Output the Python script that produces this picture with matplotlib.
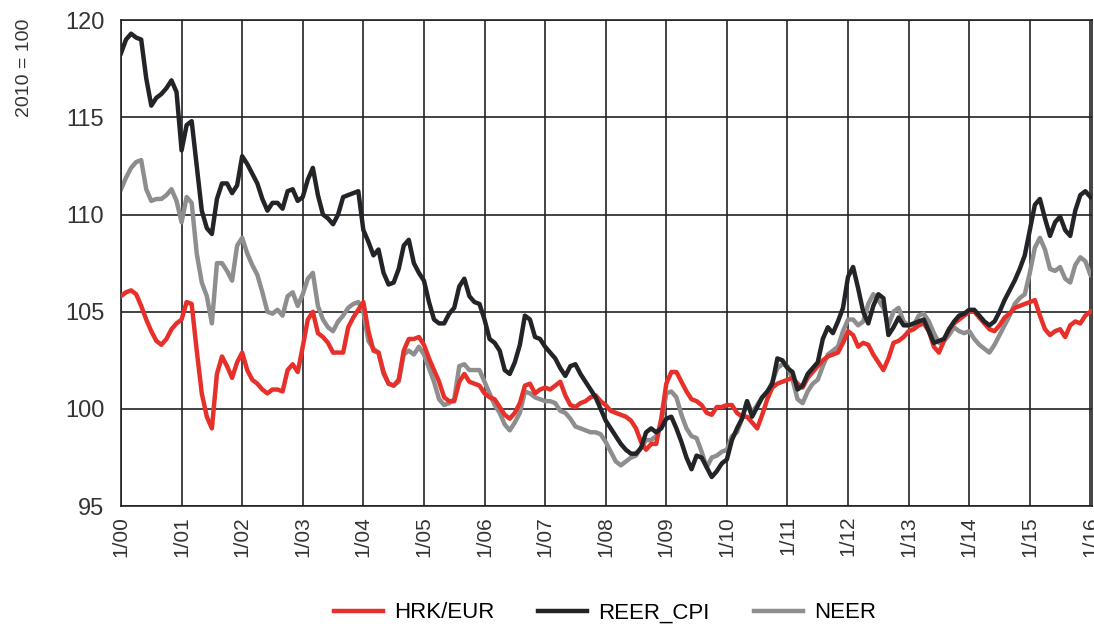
import matplotlib
matplotlib.use("Agg")
import matplotlib.pyplot as plt
import numpy as np

plt.rcParams['font.family'] = ['Liberation Sans Narrow', 'Liberation Sans', 'DejaVu Sans']

# monthly index values, 1/2000 .. 1/2016 (2010 = 100)
hrk_eur = [
    105.8, 106.0, 106.1, 105.9, 105.3, 104.6, 104.0, 103.5, 103.3, 103.6, 104.1, 104.4,
    104.6, 105.5, 105.4, 103.0, 100.8, 99.6, 99.0, 101.8, 102.7, 102.2, 101.6, 102.4,
    102.9, 102.0, 101.5, 101.3, 101.0, 100.8, 101.0, 101.0, 100.9, 102.0, 102.3, 101.9,
    103.2, 104.6, 105.0, 103.9, 103.7, 103.4, 102.9, 102.9, 102.9, 104.2, 104.7, 105.1,
    105.5, 104.0, 103.0, 102.9, 101.9, 101.3, 101.2, 101.5, 103.0, 103.6, 103.6, 103.7,
    103.3, 102.6, 102.0, 101.4, 100.6, 100.4, 100.4, 101.4, 101.8, 101.4, 101.3, 101.2,
    100.8, 100.6, 100.5, 100.1, 99.7, 99.5, 99.8, 100.3, 101.2, 101.3, 100.8, 101.0,
    101.1, 101.0, 101.2, 101.4, 100.7, 100.2, 100.1, 100.3, 100.4, 100.6, 100.7, 100.4,
    100.2, 99.9, 99.8, 99.7, 99.6, 99.4, 99.0, 98.3, 97.9, 98.2, 98.2, 99.5,
    101.3, 101.9, 101.9, 101.4, 100.9, 100.5, 100.4, 100.2, 99.8, 99.7, 100.1, 100.1,
    100.2, 100.2, 99.8, 99.6, 99.6, 99.3, 99.0, 99.7, 100.5, 101.1, 101.3, 101.4,
    101.5, 101.6, 101.3, 101.1, 101.6, 101.9, 102.2, 102.5, 102.7, 102.8, 102.9, 103.4,
    104.0, 103.8, 103.2, 103.4, 103.3, 102.8, 102.4, 102.0, 102.6, 103.4, 103.5, 103.7,
    104.0, 104.1, 104.3, 104.4, 104.0, 103.2, 102.9, 103.5, 104.1, 104.4, 104.6, 104.8,
    105.0, 105.0, 104.7, 104.4, 104.1, 104.0, 104.3, 104.7, 104.9, 105.2, 105.3, 105.4,
    105.5, 105.6, 104.8, 104.1, 103.8, 104.0, 104.1, 103.7, 104.3, 104.5, 104.4, 104.8,
    105.0,
]

reer_cpi = [
    118.3, 119.0, 119.3, 119.1, 119.0, 117.0, 115.6, 116.0, 116.2, 116.5, 116.9, 116.3,
    113.3, 114.6, 114.8, 112.5, 110.2, 109.3, 109.0, 110.8, 111.6, 111.6, 111.1, 111.5,
    113.0, 112.6, 112.1, 111.6, 110.8, 110.2, 110.6, 110.6, 110.3, 111.2, 111.3, 110.7,
    110.9, 111.8, 112.4, 111.0, 110.0, 109.8, 109.5, 110.0, 110.9, 111.0, 111.1, 111.2,
    109.2, 108.6, 107.9, 108.2, 107.0, 106.4, 106.5, 107.2, 108.4, 108.7, 107.5, 107.0,
    106.6, 105.5, 104.6, 104.4, 104.4, 104.9, 105.2, 106.3, 106.7, 105.8, 105.5, 105.4,
    104.6, 103.6, 103.4, 103.0, 102.0, 101.8, 102.4, 103.3, 104.8, 104.6, 103.7, 103.6,
    103.2, 102.9, 102.6, 102.1, 101.7, 102.2, 102.3, 101.8, 101.4, 101.0, 100.6, 100.0,
    99.4, 99.0, 98.6, 98.2, 97.9, 97.7, 97.7, 98.0, 98.8, 99.0, 98.8, 99.0,
    99.5, 99.6, 99.0, 98.3, 97.5, 96.9, 97.6, 97.5, 97.0, 96.5, 96.8, 97.2,
    97.4, 98.4, 99.0, 99.5, 100.4, 99.6, 100.1, 100.6, 100.9, 101.3, 102.6, 102.5,
    102.1, 101.9, 101.0, 101.2, 101.8, 102.1, 102.4, 103.6, 104.2, 103.9, 104.5, 105.2,
    106.8, 107.3, 106.2, 105.0, 104.4, 105.3, 105.9, 105.7, 103.8, 104.2, 104.7, 104.3,
    104.3, 104.4, 104.5, 104.6, 104.0, 103.4, 103.5, 103.6, 104.1, 104.5, 104.8, 104.9,
    105.1, 105.1, 104.8, 104.5, 104.3, 104.5, 105.0, 105.6, 106.1, 106.6, 107.2, 107.9,
    109.2, 110.5, 110.8, 109.8, 108.9, 109.6, 109.9, 109.2, 108.9, 110.2, 111.0, 111.2,
    110.9,
]

neer = [
    111.3, 111.9, 112.4, 112.7, 112.8, 111.3, 110.7, 110.8, 110.8, 111.0, 111.3, 110.7,
    109.6, 110.9, 110.6, 108.0, 106.5, 105.8, 104.4, 107.5, 107.5, 107.1, 106.6, 108.4,
    108.8, 108.0, 107.4, 106.9, 106.0, 105.0, 104.9, 105.1, 104.8, 105.8, 106.0, 105.3,
    105.9, 106.7, 107.0, 105.3, 104.6, 104.2, 104.0, 104.5, 104.8, 105.2, 105.4, 105.5,
    105.0, 103.5, 103.1, 102.9, 101.8, 101.3, 101.2, 101.4, 102.8, 103.0, 102.8, 103.2,
    102.8, 102.1, 101.4, 100.5, 100.2, 100.3, 100.5, 102.2, 102.3, 102.0, 102.0, 102.0,
    101.4, 100.8, 100.2, 99.8, 99.2, 98.9, 99.3, 99.8, 100.9, 100.8, 100.6, 100.5,
    100.4, 100.4, 100.3, 99.9, 99.8, 99.5, 99.1, 99.0, 98.9, 98.8, 98.8, 98.7,
    98.3, 97.8, 97.3, 97.1, 97.3, 97.5, 97.6, 98.0, 98.4, 98.4, 98.6, 99.3,
    100.8, 100.9, 100.6, 99.7, 99.0, 98.6, 98.5, 97.8, 97.0, 97.5, 97.6, 97.8,
    97.9, 98.6, 98.8, 99.5, 100.4, 99.8, 100.2, 100.6, 100.8, 101.4, 102.1, 102.3,
    102.2, 101.5, 100.5, 100.3, 100.9, 101.3, 101.5, 102.2, 102.8, 103.0, 103.2, 104.0,
    104.6, 104.6, 104.3, 104.5, 105.4, 105.9, 105.6, 105.2, 104.3, 105.0, 105.2, 104.5,
    104.3, 104.3, 104.8, 104.9, 104.5, 103.9, 103.4, 103.5, 103.8, 104.2, 104.0, 103.9,
    104.0, 103.6, 103.3, 103.1, 102.9, 103.3, 103.8, 104.3, 104.8, 105.4, 105.7, 105.9,
    107.0, 108.3, 108.8, 108.2, 107.2, 107.1, 107.3, 106.7, 106.5, 107.4, 107.8, 107.6,
    106.9,
]

tick_labels = ['1/00', '1/01', '1/02', '1/03', '1/04', '1/05', '1/06', '1/07', '1/08',
               '1/09', '1/10', '1/11', '1/12', '1/13', '1/14', '1/15', '1/16']

months = np.arange(len(hrk_eur))

fig = plt.figure(figsize=(10.94, 6.28), dpi=100)
ax = fig.add_axes([0.1106, 0.194, 0.8875, 0.774])

ax.plot(months, hrk_eur, color='#e8302a', lw=3.2, label='HRK/EUR', zorder=3)
ax.plot(months, reer_cpi, color='#222428', lw=3.2, label='REER_CPI', zorder=3)
ax.plot(months, neer, color='#8e8e8e', lw=3.2, label='NEER', zorder=2)

ax.set_xlim(0, 192.3)
ax.set_ylim(95, 120)
ax.set_xticks(np.arange(0, 193, 12))
ax.set_xticklabels(tick_labels, rotation=90, fontsize=15, color='#333333')
ax.set_yticks([95, 100, 105, 110, 115, 120])
ax.tick_params(axis='y', labelsize=17, colors='#333333', length=0, pad=12)
ax.tick_params(axis='x', length=0, pad=7)
ax.grid(True, color='#222222', lw=1.2)
ax.set_axisbelow(True)
for s in ax.spines.values():
    s.set_color('#222222')
    s.set_linewidth(1.2)

fig.text(0.022, 1 - 68 / 628, '2010 = 100', rotation=90, ha='center', va='center',
         fontsize=14, color='#333333')

fig.legend(loc='center', bbox_to_anchor=(0.553, 0.024), ncol=3, frameon=False,
           fontsize=16, handlelength=2.2, columnspacing=2.0, handletextpad=0.5)

fig.savefig('out.png', dpi=100)
